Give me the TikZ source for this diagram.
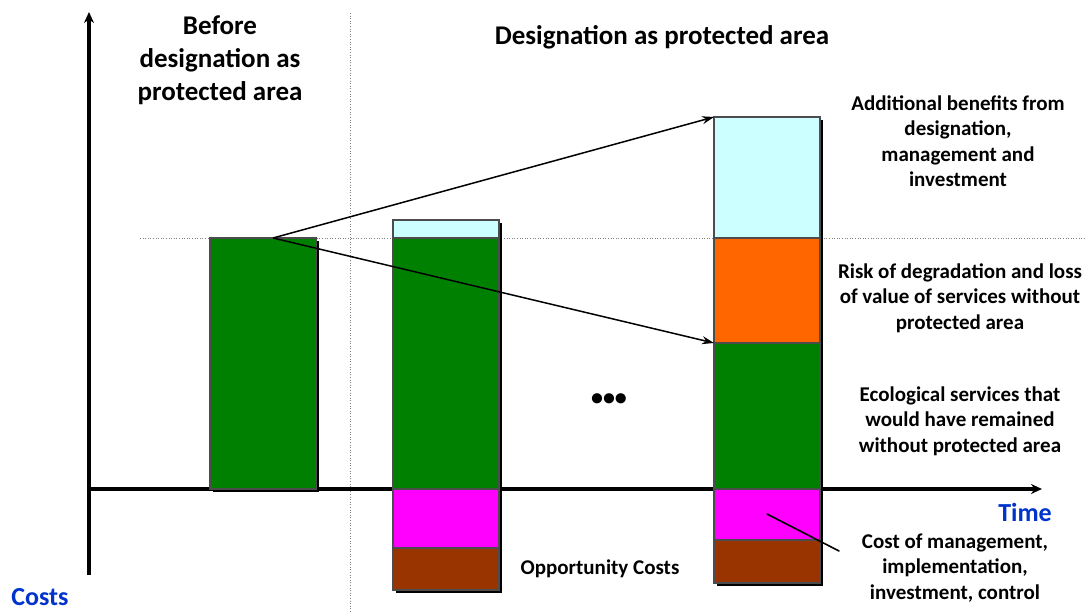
\documentclass[tikz,border=0pt]{standalone}
\usepackage{fontspec}
\setmainfont{Carlito}
\usepackage{xcolor}
\usetikzlibrary{shapes, positioning, shadows, arrows.meta}

\definecolor{ecogreen}{RGB}{0,128,0}
\definecolor{addcyan}{RGB}{204,255,255}
\definecolor{riskorange}{RGB}{255,102,0}
\definecolor{mgmtmagenta}{RGB}{255,0,255}
\definecolor{oppbrown}{RGB}{153,51,0}
\definecolor{axisblue}{RGB}{0,51,204}

\tikzset{
    bar/.style={rectangle, draw=gray!60!black, line width=1.2pt, minimum width=106pt,
        inner sep=0pt, outer sep=0pt, anchor=north west,
        drop shadow={shadow xshift=3pt, shadow yshift=-3pt, opacity=1, fill=black}},
    lbl/.style={align=center, font=\bfseries\fontsize{21}{25.5}\selectfont},
    head/.style={align=center, font=\bfseries\fontsize{27}{33}\selectfont},
    axislbl/.style={font=\bfseries\fontsize{26}{30}\selectfont, text=axisblue},
    axis/.style={line width=3.5pt, -{Stealth[length=11pt, width=10pt]}},
    guide/.style={gray, dotted, line width=0.6pt}
}

\begin{document}
\begin{tikzpicture}[x=1pt, y=-1pt]
        \useasboundingbox (0,0) rectangle (1085,612);

        \coordinate (ybot) at (89,575);
        \coordinate (ytop) at (89,12);
        \coordinate (o) at (87,489);
        \coordinate (xend) at (1042,489);
        \coordinate (vtop) at (350,13);
        \coordinate (vbot) at (350,612);
        \coordinate (hleft) at (140,238);
        \coordinate (hright) at (1085,238);

        \draw[guide] (vtop) -- (vbot);
        \draw[guide] (hleft) -- (hright);
        \draw[axis] (ybot) -- (ytop);
        \draw[axis] (o) -- (xend);

        \node[bar, fill=ecogreen, minimum height=251pt] (b1) at (210,238) {};

        \node[bar, fill=addcyan, minimum height=18pt] (b2add) at (393,220) {};
        \node[bar, fill=ecogreen, minimum height=251pt] (b2eco) at (393,238) {};
        \node[bar, fill=mgmtmagenta, minimum height=59pt] (b2mgmt) at (393,489) {};
        \node[bar, fill=oppbrown, minimum height=42pt] (b2opp) at (393,548) {};

        \node[bar, fill=addcyan, minimum height=121pt] (b3add) at (714,117) {};
        \node[bar, fill=riskorange, minimum height=105pt] (b3risk) at (714,238) {};
        \node[bar, fill=ecogreen, minimum height=146pt] (b3eco) at (714,343) {};
        \node[bar, fill=mgmtmagenta, minimum height=51pt] (b3mgmt) at (714,489) {};
        \node[bar, fill=oppbrown, minimum height=43pt] (b3opp) at (714,540) {};

        \coordinate (split) at (273,238);
        \draw[line width=1.5pt, -{Stealth[length=12pt, width=8pt]}] (split) -- (b3add.north west);
        \draw[line width=1.5pt, -{Stealth[length=12pt, width=8pt]}] (split) -- (b3eco.north west);

        \coordinate (costtip) at (767,514);
        \coordinate (costend) at (839,551);
        \draw[line width=1.6pt, line cap=round] (costtip) -- (costend);

        \node[head] (before) at (220,60) {Before\\designation as\\protected area};
        \node[head] (desig) at (662,37) {Designation as protected area};
        \node[font=\bfseries\fontsize{24}{24}\selectfont] (dots) at (609,400) {•••};

        \node[lbl] (addlbl) at (958,141) {Additional benefits from\\designation,\\management and\\investment};
        \node[lbl] (risklbl) at (960,298) {Risk of degradation and loss\\of value of services without\\protected area};
        \node[lbl] (ecolbl) at (960,421) {Ecological services that\\would have remained\\without protected area};
        \node[lbl] (costlbl) at (955,568) {Cost of management,\\implementation,\\investment, control};
        \node[lbl] (opplbl) at (600,569) {Opportunity Costs};

        \node[axislbl] (timelbl) at (1025,512) {Time};
        \node[axislbl] (costslbl) at (40,597) {Costs};
    \end{tikzpicture}
\end{document}
